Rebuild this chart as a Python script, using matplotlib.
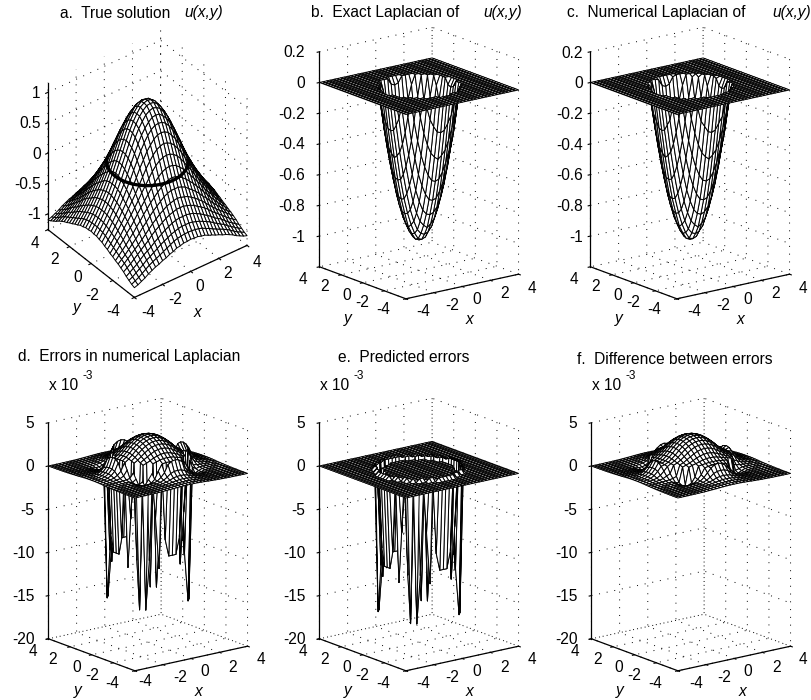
''' Six surface panels: true solution, Laplacians and their errors '''
import numpy as np
import matplotlib
matplotlib.use('Agg')
import matplotlib.pyplot as plt

plt.rcParams['font.family'] = ['Liberation Sans', 'DejaVu Sans']
plt.rcParams['axes.unicode_minus'] = False

# Mesh nodes along x and y, both run -4..4
x_nodes = np.linspace(-4, 4, 33)

# Surface values for one eighth of the mesh (the rest mirrors it).
# Row i holds the nodes j = i, i+1, ... counted outward from the centre; missing ones are 0.
true_solution = [
    [1.00, .98, .94, .86, .76, .64, .50, .34, .19, .04, -.11, -.23, -.35, -.46, -.56, -.65, -.73],
    [.97, .92, .85, .75, .63, .48, .33, .18, .03, -.11, -.24, -.35, -.46, -.56, -.65, -.74],
    [.88, .80, .71, .59, .45, .30, .15, .00, -.13, -.26, -.37, -.47, -.57, -.66, -.74],
    [.73, .64, .52, .39, .25, .10, -.04, -.16, -.28, -.39, -.49, -.59, -.67, -.76],
    [.55, .44, .31, .18, .04, -.09, -.21, -.32, -.42, -.52, -.61, -.69, -.77],
    [.33, .22, .09, -.03, -.15, -.26, -.36, -.46, -.55, -.64, -.72, -.80],
    [.11, .00, -.11, -.21, -.31, -.41, -.50, -.59, -.67, -.75, -.82],
    [-.09, -.19, -.28, -.37, -.46, -.54, -.63, -.70, -.78, -.85],
    [-.27, -.35, -.44, -.52, -.59, -.67, -.74, -.81, -.87],
    [-.43, -.50, -.58, -.65, -.72, -.78, -.84, -.90],
    [-.57, -.64, -.70, -.76, -.82, -.87, -.92],
    [-.70, -.75, -.80, -.85, -.90, -.95],
    [-.80, -.85, -.90, -.94, -.98],
    [-.90, -.94, -.98, -1.02],
    [-.98, -1.02, -1.05],
    [-1.05, -1.08],
    [-1.10],
]

exact_laplacian = [
    [-1.00, -.99, -.95, -.90, -.81, -.71, -.58, -.43, -.25, -.05],
    [-.98, -.94, -.88, -.80, -.70, -.57, -.41, -.24, -.04],
    [-.91, -.85, -.77, -.66, -.53, -.38, -.20, -.00],
    [-.79, -.71, -.60, -.47, -.32, -.15],
    [-.63, -.52, -.39, -.24, -.06],
    [-.41, -.29, -.13],
    [-.16, -.00],
]

# Units of 1e-3
predicted_errors = [
    [0, 0, 0, 0, 0, 0, 0, 0, 0, -10.5, .4],
    [0, 0, 0, 0, 0, 0, 0, 0, -10.5, .4],
    [0, 0, 0, 0, 0, 0, 0, -8.5, .4],
    [0, 0, 0, 0, 0, -12.0, .4],
    [0, 0, 0, 0, -6.0, .4],
    [0, 0, -11.0, .4],
    [0, -16.5, .4],
    [.4],
]

error_difference = [
    [4.10, 4.05, 3.92, 3.70, 3.39, 3.03, 2.60, 2.20, 1.85, 1.65, 1.90, 1.20, .72, .46, .31, .24, .18],
    [4.01, 3.87, 3.65, 3.35, 2.99, 2.56, 2.17, 1.85, 1.65, 1.80, 1.15, .68, .44, .30, .23, .18],
    [3.74, 3.52, 3.23, 2.87, 2.45, 2.10, 1.80, 1.60, 1.50, 1.00, .60, .38, .28, .21, .17],
    [3.31, 3.03, 2.67, 2.30, 1.98, 1.75, 1.50, 1.05, .66, .42, .31, .24, .19, .15],
    [2.75, 2.41, 2.10, 1.85, 1.68, .80, .60, .40, .30, .24, .19, .16, .13],
    [2.17, 1.90, 1.75, .50, .35, .28, .24, .21, .18, .15, .12, .10],
    [1.75, 1.60, -.10, .00, .14, .14, .13, .12, .11, .09, .08],
    [-.40, -.30, -.10, .06, .08, .08, .08, .07, .07, .06],
    [-.20, -.10, .02, .03, .04, .05, .05, .05, .04],
    [-.05, 0, .01, .02, .02, .03, .03, .03],
    [0, 0, .01, .01, .02, .02, .02],
    [0, 0, 0, .01, .01, .01],
    [0, 0, 0, .01, .01],
    [0, 0, 0, 0],
    [0, 0, 0],
    [0, 0],
    [0],
]

# Radius of the thick circle on panel a
ring_radius = 2.31

plot_titles = ['a.  True solution', 'b.  Exact Laplacian of', 'c.  Numerical Laplacian of',
               'd.  Errors in numerical Laplacian', 'e.  Predicted errors',
               'f.  Difference between errors']
xy_ticks = [-4, -2, 0, 2, 4]
xy_labels = ['-4', '-2', '0', '2', '4']

# Pixel spots of the floor tick labels, from -4 to 4
x_label_px = {'a': [(148, 313), (175, 300), (200, 287), (228, 273), (257, 262)],
              'b': [(423, 312), (452, 305), (477, 299), (505, 293), (532, 288)],
              'c': [(694, 312), (723, 305), (748, 299), (776, 293), (803, 288)],
              'd': [(145, 682), (180, 678), (205, 672), (233, 667), (261, 659)],
              'e': [(423, 683), (452, 677), (477, 672), (505, 667), (532, 659)],
              'f': [(696, 683), (724, 677), (748, 672), (777, 667), (803, 659)]}
y_label_px = {'a': [(113, 312), (92, 296), (78, 278), (55, 260), (35, 243)],
              'b': [(383, 310), (362, 302), (347, 295), (325, 287), (303, 280)],
              'c': [(654, 310), (633, 302), (618, 295), (596, 287), (574, 280)],
              'd': [(112, 683), (92, 675), (77, 668), (53, 660), (33, 652)],
              'e': [(383, 683), (362, 675), (347, 668), (325, 660), (303, 652)],
              'f': [(655, 683), (634, 675), (619, 668), (598, 660), (575, 652)]}

W, H = 812, 700
AXES_PX = 300
UNIT = 0.5405 * AXES_PX  # pixels per box unit in an orthographic mplot3d axes


def unfold(rows):
    'Mirror an eighth of the mesh over the whole grid'
    z = np.zeros((33, 33))
    for i, row in enumerate(rows):
        for k, value in enumerate(row):
            j = i + k
            for a in (16 - i, 16 + i):
                for b in (16 - j, 16 + j):
                    z[a, b] = value
                    z[b, a] = value
    return z


def panel(cx, cy, z, zlim, zticks, zlabels, elev, zpx, zpad=0):
    'One 3D axes, centred on pixel (cx, cy) with a box zpx tall on screen'
    ax = fig.add_axes([(cx - 0.5135 * AXES_PX) / W, (H - cy - 0.5135 * AXES_PX) / H,
                       AXES_PX / W, AXES_PX / H], projection='3d', proj_type='ortho')
    ax.patch.set_alpha(0)
    ax.view_init(elev=elev, azim=-127.5)
    lx = 142 / UNIT
    lz = zpx / np.cos(np.radians(elev)) / UNIT
    aspect = (lx, lx, lz)
    ax.set_box_aspect(aspect, zoom=np.linalg.norm(aspect) / (1.8294640721620434 * 25 / 24))
    ax.computed_zorder = False

    X, Y = np.meshgrid(x_nodes, x_nodes)
    ax.plot_surface(X, Y, z, rstride=1, cstride=1, color='white', edgecolor='k',
                    linewidth=0.7, shade=False, antialiased=True, zorder=1)

    ax.set_xlim(-4, 4, view_margin=0)
    ax.set_ylim(-4, 4, view_margin=0)
    ax.set_zlim(zlim[0], zlim[1], view_margin=0)
    ax.set_xticks(xy_ticks, [''] * 5)
    ax.set_yticks(xy_ticks, [''] * 5)
    ax.set_zticks(zticks, zlabels)
    ax.tick_params(labelsize=11.2, length=0)
    ax.zaxis.set_tick_params(pad=zpad)
    for label in ax.get_zticklabels():
        label.set_ha('right')
        label.set_va('center_baseline')

    for axis in (ax.xaxis, ax.yaxis, ax.zaxis):
        axis.set_pane_color((1, 1, 1, 0))
        axis.pane.set_edgecolor((1, 1, 1, 0))
        axis.line.set_linewidth(0.9)
        axis.line.set_color('k')
        axis._axinfo['grid'].update(color='k', linewidth=0.7, linestyle=(0, (1, 7)))
        axis._axinfo['tick'].update(inward_factor=0.25, outward_factor=0.0)
    ax.zaxis.set_ticks_position('upper')
    ax.zaxis.set_label_position('upper')
    return ax


fig = plt.figure(figsize=(W / 100, H / 100), dpi=100, facecolor='white')

u_grid = unfold(true_solution)
lap_grid = unfold(exact_laplacian)
pred_grid = unfold(predicted_errors)
diff_grid = unfold(error_difference)
err_grid = pred_grid + diff_grid            # d = e + f
num_grid = lap_grid + err_grid * 1e-3       # c = b + d

err_ticks = [-20, -15, -10, -5, 0, 5]
err_labels = ['-20', '-15', '-10', '-5', '0', '5']
lap_ticks = [-1, -.8, -.6, -.4, -.2, 0, .2]
lap_labels = ['-1', '-0.8', '-0.6', '-0.4', '-0.2', '0', '0.2']

ax_a = panel(147.5, 164, u_grid, (-1.26, 1.16), [-1, -.5, 0, .5, 1],
             ['-1', '-0.5', '0', '0.5', '1'], 37, 147, zpad=-4)
panel(419, 163, lap_grid, (-1.2, .2), lap_ticks, lap_labels, 16.5, 215)
panel(690, 163, num_grid, (-1.2, .2), lap_ticks, lap_labels, 16.5, 215, zpad=-4)
panel(148, 534.5, err_grid, (-20, 5), err_ticks, err_labels, 16.5, 216)
panel(419, 534.5, pred_grid, (-20, 5), err_ticks, err_labels, 16.5, 216)
panel(691, 534.5, diff_grid, (-20, 5), err_ticks, err_labels, 16.5, 216)

# Thick circle on panel a, only the half that faces the viewer
theta = np.radians(np.linspace(-217.5, -37.5, 90))
ax_a.plot(ring_radius * np.cos(theta), ring_radius * np.sin(theta), np.zeros(90),
          color='k', linewidth=2.4, zorder=3)


def put(px, py, s, **kw):
    'Text placed by pixel position, measured from the top left'
    fig.text(px / W, 1 - py / H, s, va='center', **kw)


TITLE = 11.2
put(60, 13, plot_titles[0], fontsize=TITLE)
put(311, 13, plot_titles[1], fontsize=TITLE)
put(567, 13, plot_titles[2], fontsize=TITLE)
put(18, 357, plot_titles[3], fontsize=TITLE)
put(338, 357, plot_titles[4], fontsize=TITLE)
put(577, 359, plot_titles[5], fontsize=TITLE)
for px in (184, 483, 772):
    put(px, 13, 'u(x,y)', fontsize=TITLE, style='italic')

for px in (49, 320, 592):
    put(px, 385, 'x 10', fontsize=TITLE)
    put(px + 34, 376, '-3', fontsize=8.5)

for name in 'abcdef':
    for spots in (x_label_px[name], y_label_px[name]):
        for (px, py), label in zip(spots, xy_labels):
            put(px, py, label, fontsize=TITLE, ha='center')

for px, py in ((198, 313), (470, 319), (741, 319), (199, 691), (470, 691), (743, 691)):
    put(px, py, 'x', fontsize=TITLE, style='italic', ha='center')
for px, py in ((77, 308), (348, 318), (619, 318), (78, 690), (348, 690), (620, 690)):
    put(px, py, 'y', fontsize=TITLE, style='italic', ha='center')

fig.savefig('out.png', dpi=100)
